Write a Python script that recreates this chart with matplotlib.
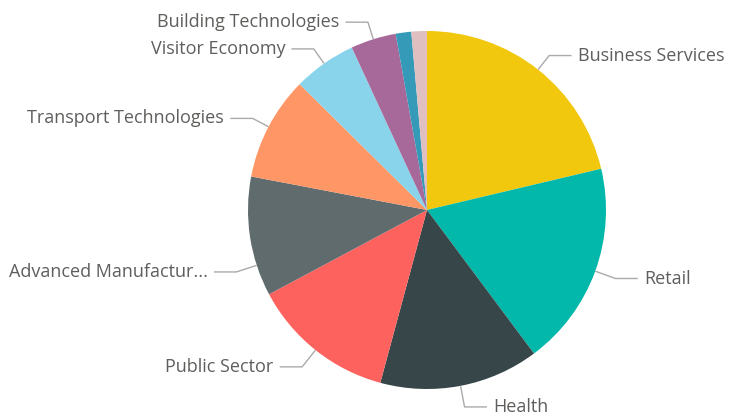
import numpy as np
import matplotlib.pyplot as plt

# slice data (clockwise from 12 o'clock), share in percent
categories = ["Business Services", "Retail", "Health", "Public Sector",
              "Advanced Manufactur...", "Transport Technologies",
              "Visitor Economy", "Building Technologies", "", ""]
shares = [21.3, 18.5, 14.4, 13.0, 10.8, 9.4, 5.7, 4.1, 1.4, 1.4]
colors = ["#F2C80F", "#01B8AA", "#374649", "#FD625E", "#5F6B6D",
          "#FE9666", "#8AD4EB", "#A66999", "#3599B8", "#DFBFBF"]

plt.rcParams['font.family'] = ['Open Sans', 'DejaVu Sans']

W, H = 733, 416
cx, cy, R = 427, 206, 179     # pie centre (from bottom) and radius in pixels

fig = plt.figure(figsize=(W / 100, H / 100), dpi=100)
ax = fig.add_axes([0, 0, 1, 1])
wedges, _ = ax.pie(shares, colors=colors, startangle=90, counterclock=False,
                   radius=1, wedgeprops=dict(linewidth=0))
ax.set_xlim(-cx / R, (W - cx) / R)
ax.set_ylim(-cy / R, (H - cy) / R)
ax.set_aspect('equal')
ax.axis('off')

# label leader lines
angle_fix = {"Advanced Manufactur...": 198.0}   # power bi nudged this one down
seg = 0.125
gap = 0.035
for w, name in zip(wedges, categories):
    if not name:
        continue
    ang = angle_fix.get(name, (w.theta1 + w.theta2) / 2)
    a = np.deg2rad(ang)
    x0, y0 = np.cos(a), np.sin(a)
    r1 = 1.1 if y0 > 0 else 1.12
    x1, y1 = r1 * x0, r1 * y0
    side = 1 if x0 >= 0 else -1
    x2 = x1 + side * seg
    ax.plot([x0, x1, x2], [y0, y1, y1], color="#AAAAAA", lw=1,
            solid_capstyle='butt')
    ax.text(x2 + side * gap, y1, name, color="#605E5C", fontsize=13,
            ha='left' if side > 0 else 'right', va='center')

fig.savefig("out.png", dpi=100)
